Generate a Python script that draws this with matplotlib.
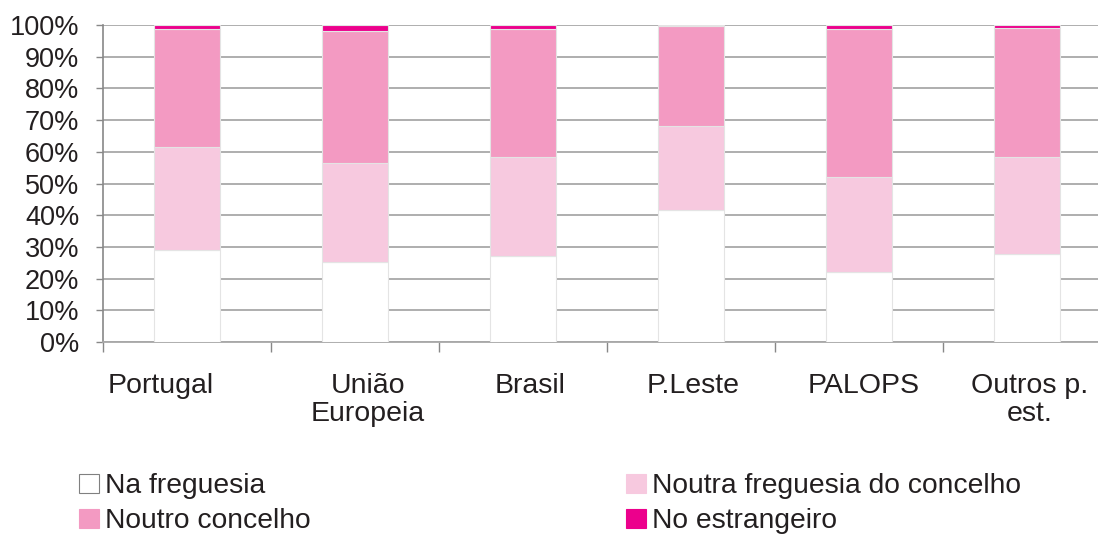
import numpy as np
import matplotlib.pyplot as plt
from matplotlib.patches import Patch
from matplotlib.ticker import FixedLocator, PercentFormatter
from matplotlib.transforms import ScaledTranslation

plt.rcParams['font.family'] = ['Liberation Sans', 'DejaVu Sans']

categories = ['Portugal', 'União\nEuropeia', 'Brasil', 'P.Leste', 'PALOPS', 'Outros p.\nest.']
na_freguesia = [29.0, 25.1, 27.0, 41.7, 22.0, 27.7]
noutra_freguesia = [32.6, 31.4, 31.5, 26.5, 30.2, 30.8]
noutro_concelho = [37.1, 41.6, 40.2, 31.5, 46.5, 40.5]
no_estrangeiro = [1.3, 1.9, 1.3, 0.3, 1.3, 1.0]

series = [
    ('Na freguesia', na_freguesia, '#ffffff'),
    ('Noutra freguesia do concelho', noutra_freguesia, '#f7c9df'),
    ('Noutro concelho', noutro_concelho, '#f39ac2'),
    ('No estrangeiro', no_estrangeiro, '#ec008c'),
]

# horizontal nudge (px) of each category label
label_shift = [-26, 13, 7, 2, 5, 3]

fig = plt.figure(figsize=(10.98, 5.35), dpi=100)
ax = fig.add_axes([103 / 1098, 193 / 535, 1008 / 1098, 317 / 535])

x = np.arange(len(categories))
bottom = np.zeros(len(categories))
for name, vals, color in series:
    vals = np.array(vals)
    ax.bar(x, vals, bottom=bottom, width=0.39, color=color,
           edgecolor='#e4e4e4', linewidth=0.8, zorder=3)
    bottom += vals

ax.set_xlim(-0.5, len(categories) - 0.5)
ax.set_ylim(0, 100)
ax.set_yticks(np.arange(0, 101, 10))
ax.yaxis.set_major_formatter(PercentFormatter(decimals=0))
ax.grid(axis='y', color='#a8a8a8', linewidth=1.3, zorder=0)

ax.set_xticks(x)
ax.set_xticklabels(categories, linespacing=1.1)
ax.xaxis.set_minor_locator(FixedLocator(np.arange(-0.5, len(categories), 1.0)))
ax.tick_params(axis='x', which='major', length=0, pad=22, labelsize=20.5, colors='#231f20')
ax.tick_params(axis='x', which='minor', length=7, width=1, color='#888888', direction='out')
ax.tick_params(axis='y', length=5, width=1, color='#888888', pad=12, labelsize=19.5, labelcolor='#231f20')
for lab, dx in zip(ax.get_xticklabels(), label_shift):
    lab.set_transform(lab.get_transform() + ScaledTranslation(dx / 100, 0, fig.dpi_scale_trans))

for side in ['top', 'right']:
    ax.spines[side].set_visible(False)
ax.spines['left'].set_color('#888888')
ax.spines['left'].set_linewidth(1.2)
ax.spines['bottom'].set_color('#a8a8a8')
ax.spines['bottom'].set_linewidth(1.3)

handles = [Patch(facecolor=c, edgecolor='#808080' if c == '#ffffff' else c, linewidth=0.8, label=n)
           for n, v, c in series]
order = [0, 2, 1, 3]
fig.legend([handles[i] for i in order], [series[i][0] for i in order],
           ncol=2, loc='upper left', bbox_to_anchor=(54 / 1098, 1 - 448 / 535),
           frameon=False, fontsize=20.3, handlelength=0.7, handleheight=0.7,
           handletextpad=0.2, columnspacing=11.2, labelspacing=0.32,
           labelcolor='#231f20')

fig.savefig('out.png', dpi=100)
